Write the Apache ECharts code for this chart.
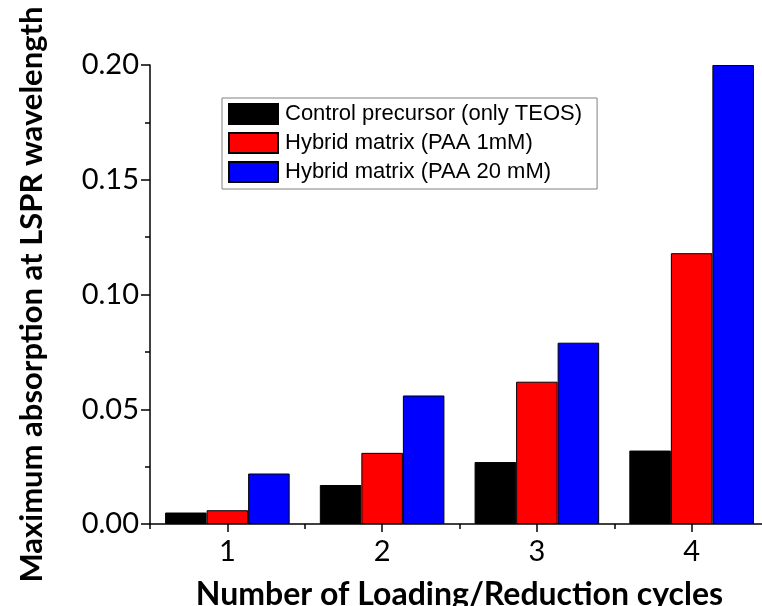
<!DOCTYPE html>
<html>
<head>
<meta charset="utf-8">
<script src="https://cdn.jsdelivr.net/npm/echarts@6/dist/echarts.min.js"></script>
<style>
  html, body { margin: 0; padding: 0; background: #fff; }
  #chart { width: 762px; height: 606px; }
</style>
</head>
<body>
<div id="chart"></div>
<script>
// Loading/reduction cycles on the category axis
var cycles = ['1', '2', '3', '4'];

// Absorption maximum at the LSPR wavelength for each matrix type
var controlTEOS = [0.005, 0.017, 0.027, 0.032];
var paa1mM = [0.006, 0.031, 0.062, 0.118];
var paa20mM = [0.022, 0.056, 0.079, 0.200];

var seriesNames = [
  'Control precursor (only TEOS)',
  'Hybrid matrix (PAA 1mM)',
  'Hybrid matrix (PAA 20 mM)'
];
var seriesColors = ['#000000', '#ff0000', '#0000ff'];
var seriesData = [controlTEOS, paa1mM, paa20mM];

var titleFont = 'Lato';
var tickFont = 'Lato';

var chart = echarts.init(document.getElementById('chart'), null, { renderer: 'canvas' });

var series = seriesData.map(function (values, i) {
  return {
    name: seriesNames[i],
    type: 'bar',
    xAxisIndex: 0,
    yAxisIndex: 0,
    data: values,
    barGap: '0%',
    barCategoryGap: '19.5%',
    itemStyle: { color: seriesColors[i], borderColor: '#000', borderWidth: 1 },
    emphasis: { disabled: true }
  };
});

chart.setOption({
  animation: false,
  backgroundColor: '#ffffff',
  grid: {
    left: 150, top: 65, width: 619, height: 459,
    containLabel: false,
    outerBoundsMode: 'none'
  },
  legend: {
    orient: 'vertical',
    left: 222,
    top: 98,
    padding: [5, 15, 6, 6],
    itemWidth: 49,
    itemHeight: 20,
    itemGap: 7,
    icon: 'rect',
    borderColor: '#808080',
    borderWidth: 1,
    backgroundColor: '#ffffff',
    selectedMode: false,
    textStyle: { fontFamily: 'Liberation Sans', fontSize: 22, color: '#000', lineHeight: 20, padding: [0, 0, 0, 2] },
    data: seriesNames
  },
  xAxis: [
    {
      type: 'category',
      data: cycles,
      position: 'bottom',
      name: 'Number of Loading/Reduction cycles',
      nameLocation: 'middle',
      nameGap: 55,
      nameTextStyle: { fontFamily: titleFont, fontWeight: 'bold', fontSize: 32, color: '#000' },
      axisLine: { show: true, lineStyle: { color: '#000', width: 1.5 } },
      axisTick: { show: true, alignWithLabel: true, length: 8, lineStyle: { color: '#000', width: 1.5 } },
      axisLabel: { fontFamily: tickFont, fontSize: 29, color: '#000', margin: 13 },
      splitLine: { show: false }
    },
    {
      // second category axis draws the short ticks at the group boundaries
      type: 'category',
      data: cycles,
      position: 'bottom',
      axisLine: { show: false },
      axisTick: { show: true, length: 5, lineStyle: { color: '#000', width: 1.5 } },
      axisLabel: { show: false },
      splitLine: { show: false }
    }
  ],
  yAxis: {
    type: 'value',
    min: 0,
    max: 0.2,
    interval: 0.05,
    name: 'Maximum absorption at LSPR wavelength',
    nameLocation: 'middle',
    nameGap: 103,
    nameTextStyle: { fontFamily: titleFont, fontWeight: 'bold', fontSize: 31, color: '#000' },
    axisLine: { show: true, lineStyle: { color: '#000', width: 1.5 } },
    axisTick: { show: true, length: 9, lineStyle: { color: '#000', width: 1.5 } },
    minorTick: { show: true, splitNumber: 2, length: 5, lineStyle: { color: '#000', width: 1.5 } },
    axisLabel: {
      fontFamily: tickFont, fontSize: 29, color: '#000', margin: 11,
      formatter: function (v) { return v.toFixed(2); }
    },
    splitLine: { show: false }
  },
  series: series
});
</script>
</body>
</html>
